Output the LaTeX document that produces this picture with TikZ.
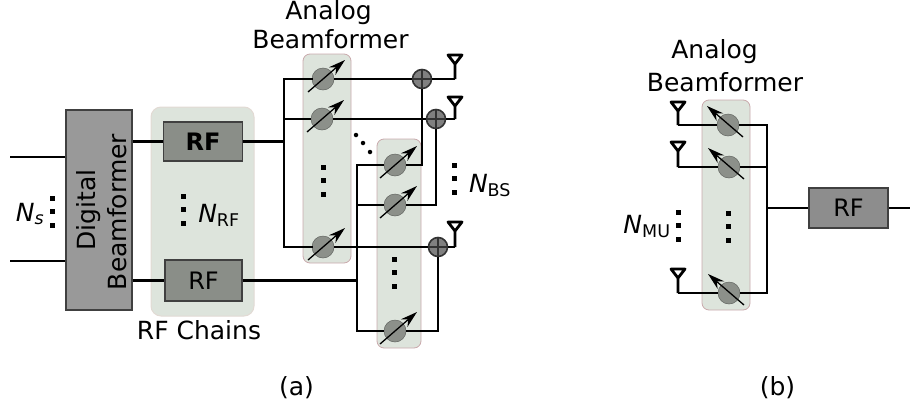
\documentclass[tikz,border=0pt]{standalone}
\usepackage{fontspec}
\usetikzlibrary{arrows.meta}
\setmainfont{DejaVu Sans}
\definecolor{panelgreen}{HTML}{DDE4DC}
\definecolor{panelpink}{HTML}{C9A9AC}
\definecolor{chainedge}{HTML}{E2DAD4}
\definecolor{rfgray}{HTML}{8A8E88}
\definecolor{boxgray}{HTML}{999999}
\definecolor{shiftgray}{HTML}{8C908A}
\tikzset{
    label text/.style={font=\fontsize{25}{28}\selectfont, inner sep=0pt, anchor=base},
    wire/.style={line width=2.8pt, black},
    panel/.style={rounded corners=7pt, fill=panelgreen, draw=panelpink, line width=0.8pt},
    rfbox/.style={draw=black!75, line width=1.6pt, fill=rfgray, inner sep=0pt, font=\fontsize{24}{26}\selectfont},
    shifter/.style={circle, fill=shiftgray, draw=shiftgray!70!black, line width=0.5pt, minimum size=22pt, inner sep=0pt},
    adder/.style={circle, fill=gray, draw=black!80, line width=1.6pt, minimum size=19pt, inner sep=0pt,
        path picture={
            \draw[line width=1.4pt] (path picture bounding box.north) -- (path picture bounding box.south);
            \draw[line width=1.4pt] (path picture bounding box.west) -- (path picture bounding box.east);
        }},
    dotmark/.style={fill=black, minimum size=5pt, inner sep=0pt},
    tune/.style={-{Stealth[length=17pt,width=10pt]}, line width=1.3pt, black},
}
\begin{document}
\begin{tikzpicture}[x=1pt, y=-1pt]
    \useasboundingbox (0,0) rectangle (910,410);

    % panels
    \fill[fill=panelgreen, draw=chainedge, line width=1pt, rounded corners=10pt] (151,107) rectangle (254,316);
    \draw[panel] (303,54) rectangle (351,263);
    \draw[panel] (377,139) rectangle (421,348);
    \draw[panel] (702,100) rectangle (750,310);

    % digital part
    \node[draw=black!75, line width=1.6pt, fill=boxgray, minimum width=66pt, minimum height=200pt, inner sep=0pt] (digital) at (99,210) {};
    \node[label text, rotate=90] (digitala) at (95,210) {Digital};
    \node[label text, rotate=90] (digitalb) at (126,212) {Beamformer};
    \node[rfbox, minimum width=79pt, minimum height=39pt, font=\bfseries\fontsize{24}{26}\selectfont] (rfa) at (203,141.5) {RF};
    \node[rfbox, minimum width=77pt, minimum height=41pt] (rfb) at (203.5,280.5) {RF};
    \node[rfbox, fill=boxgray!92!black, minimum width=79pt, minimum height=40pt] (rfc) at (848.5,208) {RF};

    \coordinate (ina) at (10,157);
    \coordinate (inb) at (10,261);
    \coordinate (outc) at (910,208);
    \draw[wire] (ina) -- (ina -| digital.west);
    \draw[wire] (inb) -- (inb -| digital.west);
    \draw[wire] (rfa.west -| digital.east) -- (rfa.west);
    \draw[wire] (rfb.west -| digital.east) -- (rfb.west);
    \draw[wire] (rfc.east) -- (outc);

    % phase shifters
    \foreach \name/\x/\y in {pa/323/79, pb/322/119, pc/323/247, pd/395/165, pe/395/205, pf/395/331}
    {
        \node[shifter] (\name) at (\x,\y) {};
    }
    \foreach \name/\x/\y in {qa/728/125, qb/729/167, qc/729/293}
    {
        \node[shifter] (\name) at (\x,\y) {};
    }

    % adders and antenna feet
    \node[adder] (suma) at (422,79) {};
    \node[adder] (sumb) at (436,119) {};
    \node[adder] (sumc) at (438,247) {};
    \coordinate (anta) at (455,79);
    \coordinate (antb) at (455,119);
    \coordinate (antc) at (455,247);
    \coordinate (antd) at (678,125);
    \coordinate (ante) at (678,167);
    \coordinate (antf) at (678,293);

    % left bus of the first panel
    \coordinate (busa) at (284,141.5);
    \draw[wire] (rfa.east) -- (busa);
    \draw[wire, line cap=rect] (pa.west) -- (pa.west -| busa) -- (pc.west -| busa) -- (pc.west);
    \draw[wire] (pb.west) -- (pb.west -| busa);
    \draw[wire] (pa.east) -- (suma.west);
    \draw[wire] (pb.east) -- (sumb.west);
    \draw[wire] (pc.east) -- (sumc.west);
    \draw[wire] (suma.east) -- (anta);
    \draw[wire] (sumb.east) -- (antb);
    \draw[wire] (sumc.east) -- (antc);

    % left bus of the second panel
    \coordinate (busb) at (357,280.5);
    \draw[wire] (rfb.east) -- (busb);
    \draw[wire] (pd.west) -- (pd.west -| busb) -- (pf.west -| busb) -- (pf.west);
    \draw[wire] (pe.west) -- (pe.west -| busb);
    \draw[wire] (pd.east) -| (suma.south);
    \draw[wire] (pe.east) -| (sumb.south);
    \draw[wire] (pf.east) -| (sumc.south);

    % receiver side
    \coordinate (busc) at (767,208);
    \draw[wire] (qa.east) -- (qa.east -| busc) -- (qc.east -| busc) -- (qc.east);
    \draw[wire] (qb.east) -- (qb.east -| busc);
    \draw[wire] (busc) -- (rfc.west);
    \draw[wire] (antd) -- (qa.west);
    \draw[wire] (ante) -- (qb.west);
    \draw[wire] (antf) -- (qc.west);

    % antennas
    \foreach \ant/\h in {anta/24, antb/22, antc/25, antd/23, ante/25, antf/24}
    {
        \draw[wire, line join=round] (\ant) -- ++(0,-\h+9) -- ++(-7,-9) -- ++(14,0) -- ++(-7,9);
    }

    % tuning arrows
    \foreach \name in {pa,pb,pc,pd,pe,pf}
    {
        \draw[tune] ([shift={(-15,13)}]\name.center) -- ([shift={(22,-19)}]\name.center);
    }
    \foreach \name in {qa,qb,qc}
    {
        \draw[tune] ([shift={(15,12)}]\name.center) -- ([shift={(-21,-19)}]\name.center);
    }

    % vertical dots
    \foreach \x/\y in {52/198, 183/196, 323/167, 394/259, 454/165, 678/212, 728/213}
    {
        \foreach \j in {0,1,2}
        {
            \node[dotmark] at (\x,\y+\j*13.7) {};
        }
    }
    \foreach \x/\y in {356/135, 363/143, 370/152}
    {
        \node[circle, fill=black, minimum size=4.5pt, inner sep=0pt] at (\x,\y) {};
    }

    % labels
    \node[label text] (titlea) at (328.5,19.5) {Analog};
    \node[label text] (titleb) at (330.5,48) {Beamformer};
    \node[label text] (titlec) at (714.5,58) {Analog};
    \node[label text] (titled) at (725,91) {Beamformer};
    \node[label text] (chains) at (199,339) {RF Chains};
    \node[label text] (capa) at (296.5,395) {(a)};
    \node[label text] (capb) at (777.5,395) {(b)};
    \node[label text] (ns) at (30,221) {\textit{N}\textsubscript{\textit{s}}};
    \node[label text] (nrf) at (219,222) {\textit{N}\textsubscript{RF}};
    \node[label text] (nbs) at (490,192) {\textit{N}\textsubscript{BS}};
    \node[label text] (nmu) at (647,233) {\textit{N}\textsubscript{MU}};
\end{tikzpicture}
\end{document}
